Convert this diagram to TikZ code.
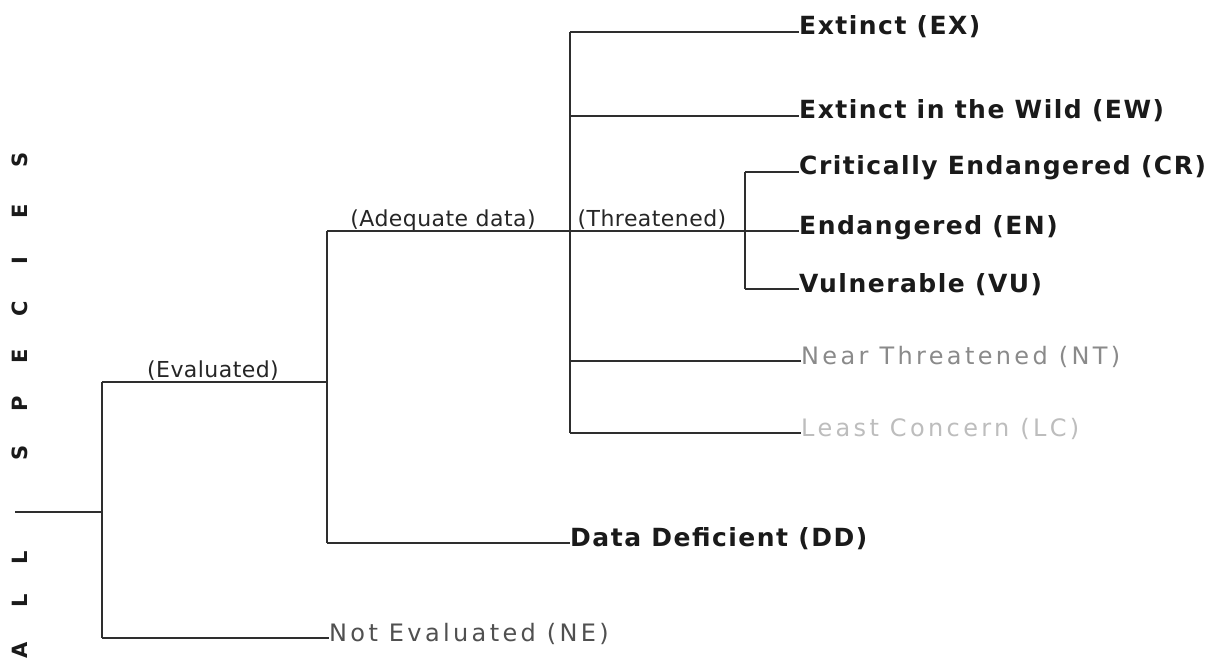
\documentclass[tikz,border=0pt]{standalone}
\usepackage{fontspec}
\setmainfont{DejaVu Sans}
\newfontfamily\lblfont[LetterSpace=6]{DejaVu Sans}
\newfontfamily\grayfont[LetterSpace=14]{DejaVu Sans}
\newfontfamily\brfont[LetterSpace=2]{DejaVu Sans}
\definecolor{ink}{HTML}{1A1A1A}
\definecolor{linec}{HTML}{2E2E2E}
\definecolor{brc}{HTML}{262626}
\definecolor{negray}{HTML}{505050}
\definecolor{ntgray}{HTML}{8A8A8A}
\definecolor{lcgray}{HTML}{BDBDBD}
\begin{document}
\begin{tikzpicture}[x=1pt,y=-1pt,
  edge/.style={draw=linec,line width=2.8pt},
  leafb/.style={anchor=base west,inner sep=0pt,text=ink,font=\lblfont\bfseries\fontsize{25}{28}\selectfont},
  leafr/.style={anchor=base west,inner sep=0pt,font=\grayfont\fontsize{24}{27}\selectfont},
  branchlbl/.style={anchor=base,inner sep=0pt,text=brc,font=\brfont\fontsize{22}{26}\selectfont},
  vletter/.style={rotate=90,inner sep=0pt,text=ink,font=\bfseries\fontsize{21}{24}\selectfont}]
\useasboundingbox (0,0) rectangle (1223,666);
\fill[white] (0,0) rectangle (1223,666);

% vertical title ALL SPECIES
\node[vletter] (t1) at (20,650) {A};
\node[vletter] (t2) at (20,601) {L};
\node[vletter] (t3) at (20,558) {L};
\node[vletter] (t4) at (20,453) {S};
\node[vletter] (t5) at (20,404) {P};
\node[vletter] (t6) at (20,356) {E};
\node[vletter] (t7) at (20,309) {C};
\node[vletter] (t8) at (20,261) {I};
\node[vletter] (t9) at (20,211) {E};
\node[vletter] (t10) at (20,160) {S};

% junction coordinates
\coordinate (r) at (15,512);
\coordinate (a1) at (102,512);
\coordinate (j1t) at (102,382);
\coordinate (j1b) at (102,638);
\coordinate (j2m) at (327,382);
\coordinate (j2t) at (327,231);
\coordinate (j2b) at (327,543);
\coordinate (j3t) at (570,32);
\coordinate (j3w) at (570,116);
\coordinate (j3n) at (570,361);
\coordinate (j3b) at (570,433);
\coordinate (j4t) at (745,172);
\coordinate (j4b) at (745,289);

% leaf labels
\node[leafb] (ex) at (799,35) {Extinct (EX)};
\node[leafb] (ew) at (799,119) {Extinct in the Wild (EW)};
\node[leafb] (cr) at (799,175) {Critically Endangered (CR)};
\node[leafb] (en) at (799,234) {Endangered (EN)};
\node[leafb] (vu) at (799,292) {Vulnerable (VU)};
\node[leafr,text=ntgray] (nt) at (801,364) {Near Threatened (NT)};
\node[leafr,text=lcgray] (lc) at (801,436) {Least Concern (LC)};
\node[leafb] (dd) at (570,546) {Data Deficient (DD)};
\node[leafr,text=negray] (ne) at (329,641) {Not Evaluated (NE)};

% branch labels
\node[branchlbl] (lev) at (213,377) {(Evaluated)};
\node[branchlbl] (lad) at (443,226) {(Adequate data)};
\node[branchlbl] (lth) at (652,226) {(Threatened)};

% connectors
\draw[edge] (r) -- (a1);
\draw[edge] (j1t) -- (j1b);
\draw[edge] (j1t) -- (j2m);
\draw[edge] (j1b) -- (j1b -| ne.west);
\draw[edge] (j2t) -- (j2b);
\draw[edge] (j2b) -- (j2b -| dd.west);
\draw[edge] (j2t) -- (j2t -| en.west);
\draw[edge] (j3t) -- (j3b);
\draw[edge] (j3t) -- (j3t -| ex.west);
\draw[edge] (j3w) -- (j3w -| ew.west);
\draw[edge] (j3n) -- (j3n -| nt.west);
\draw[edge] (j3b) -- (j3b -| lc.west);
\draw[edge] (j4t) -- (j4b);
\draw[edge] (j4t) -- (j4t -| cr.west);
\draw[edge] (j4b) -- (j4b -| vu.west);
\end{tikzpicture}
\end{document}
